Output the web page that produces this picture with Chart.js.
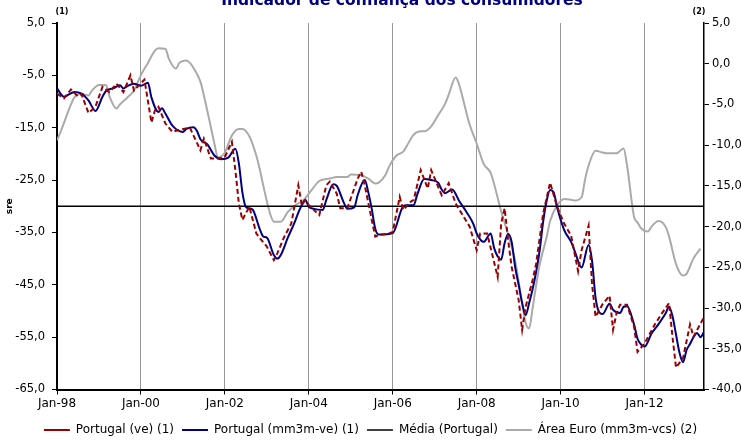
<!DOCTYPE html>
<html>
<head>
<meta charset="utf-8">
<title>Indicador de confiança dos consumidores</title>
<script src="https://cdn.jsdelivr.net/npm/chart.js@4.4.0/dist/chart.umd.min.js"></script>
<style>
  html, body { margin: 0; padding: 0; background: #ffffff; }
  #wrap { width: 741px; height: 446px; }
</style>
</head>
<body>
<div id="wrap"><canvas id="chart" width="741" height="446"></canvas></div>
<script>
// Months are counted from Jan-98 (0 = Jan-98, 185 = Jun-13)
const chartTitle = 'Indicador de confiança dos consumidores';
const xTickMonths = [0, 24, 48, 72, 96, 120, 144, 168];
const xTickLabels = ['Jan-98', 'Jan-00', 'Jan-02', 'Jan-04', 'Jan-06', 'Jan-08', 'Jan-10', 'Jan-12'];

// Portugal (ve) (1)
const ptMonths = [0, 2, 4, 6, 7, 9, 11, 13, 15, 17, 19, 21, 22, 25, 27, 28, 29, 31, 33, 35,
    38, 41, 42, 44, 46, 48, 50, 51, 52, 53, 55, 57, 58, 60, 62, 63, 65, 67, 69, 70,
    71, 72, 75, 77, 78, 80, 81, 83, 86, 87, 88, 90, 91, 92, 95, 96, 98, 99, 101, 102,
    104, 106, 107, 110, 112, 114, 116, 118, 120, 121, 123, 126, 127, 128, 129, 130, 132, 133, 134, 136,
    137, 139, 141, 143, 145, 147, 149, 150, 152, 153, 154, 156, 158, 159, 160, 161, 163, 165, 166, 168,
    171, 173, 175, 176, 177, 179, 181, 182, 185];
const ptValues = [-8.5, -9.4, -7.7, -9.0, -8.6, -12.2, -11.0, -7.2, -8.2, -6.6, -8.2, -5.0, -7.9, -5.8, -14.0, -11.7, -11.0, -14.2, -15.8, -15.4,
    -15.0, -19.3, -17.1, -20.9, -20.9, -20.6, -17.7, -23.1, -29.5, -32.6, -30.1, -35.2, -36.1, -37.7, -40.3, -39.0, -35.8, -33.3, -26.0, -29.8,
    -28.8, -29.8, -31.7, -26.0, -25.3, -27.6, -30.4, -30.4, -24.7, -23.4, -26.0, -32.6, -35.8, -35.5, -35.2, -34.9, -28.2, -30.7, -29.2, -28.8,
    -23.1, -26.6, -23.1, -27.9, -25.6, -29.5, -31.7, -33.9, -38.4, -35.2, -35.2, -43.5, -33.3, -30.4, -36.5, -41.6, -47.9, -53.6, -49.2, -44.1,
    -41.0, -31.4, -25.5, -30.1, -33.3, -35.6, -42.4, -38.4, -33.7, -45.0, -51.1, -48.7, -47.1, -53.6, -50.4, -48.8, -48.8, -53.0, -57.8, -56.2,
    -52.5, -50.4, -48.5, -55.0, -60.8, -59.0, -52.6, -54.9, -51.2];

// Portugal (mm3m-ve) (1)
const ptAvgMonths = [0, 2, 3, 5, 7, 9, 11, 13, 14, 16, 18, 19, 20, 22, 24, 26, 27, 29, 30, 31,
    33, 36, 37, 39, 40, 41, 43, 45, 47, 49, 51, 52, 53, 54, 55, 56, 58, 59, 60, 62,
    63, 64, 66, 68, 69, 70, 71, 72, 73, 76, 77, 79, 80, 82, 83, 85, 86, 88, 89, 90,
    91, 92, 96, 99, 100, 102, 103, 105, 107, 109, 110, 111, 113, 115, 117, 119, 120, 122, 124, 125,
    126, 127, 128, 129, 130, 131, 132, 133, 134, 135, 136, 137, 138, 139, 140, 141, 142, 143, 145, 147,
    148, 150, 152, 153, 154, 155, 156, 158, 159, 161, 162, 163, 165, 166, 167, 168, 170, 172, 174, 175,
    176, 177, 178, 179, 180, 181, 182, 183, 184, 185];
const ptAvgValues = [-7.5, -9.1, -8.8, -8.2, -8.5, -9.8, -11.8, -9.1, -8.0, -7.5, -6.9, -7.5, -7.1, -6.6, -7.0, -6.4, -9.2, -12.0, -11.3, -12.3,
    -14.6, -15.8, -15.2, -14.9, -15.6, -17.2, -18.2, -20.3, -21.0, -20.7, -19.0, -21.8, -27.3, -30.1, -30.4, -30.7, -34.4, -35.8, -36.0, -39.3,
    -40.0, -39.3, -36.0, -33.0, -31.2, -29.8, -28.8, -30.1, -30.4, -30.7, -28.8, -25.8, -26.1, -29.3, -30.5, -30.2, -27.8, -25.0, -27.3, -30.5,
    -34.3, -35.4, -35.1, -30.0, -29.8, -29.8, -27.8, -24.8, -25.0, -25.5, -26.8, -27.5, -26.8, -29.0, -31.0, -33.3, -35.2, -36.8, -35.2, -38.0,
    -39.6, -40.2, -37.0, -35.3, -36.8, -41.6, -45.0, -48.5, -50.8, -48.5, -45.8, -42.5, -38.5, -33.0, -29.0, -26.9, -27.3, -30.2, -34.5, -36.8,
    -38.5, -41.7, -37.4, -40.5, -47.5, -50.2, -50.6, -48.6, -49.8, -50.4, -49.2, -49.1, -52.6, -55.3, -56.4, -56.8, -54.3, -52.5, -50.5, -49.2,
    -51.0, -54.5, -58.0, -59.8, -57.5, -56.3, -55.0, -54.2, -55.0, -54.0];

// Média (Portugal)
const mediaMonths = [0, 185];
const mediaValues = [-30, -30];

// Área Euro (mm3m-vcs) (2) - right axis
const euroMonths = [0, 1, 4, 5, 7, 9, 10, 12, 14, 15, 17, 18, 20, 22, 24, 26, 28, 29, 31, 32,
    34, 35, 37, 38, 39, 41, 42, 44, 45, 46, 48, 50, 52, 53, 55, 57, 58, 59, 61, 62,
    64, 66, 68, 70, 71, 73, 75, 78, 80, 83, 84, 87, 89, 91, 92, 94, 95, 97, 99, 100,
    102, 104, 105, 107, 109, 111, 112, 114, 115, 117, 118, 120, 122, 124, 125, 127, 129, 131, 133, 134,
    135, 136, 137, 138, 140, 141, 143, 145, 147, 148, 150, 151, 152, 154, 156, 157, 158, 160, 162, 163,
    165, 166, 167, 169, 170, 172, 174, 175, 177, 179, 180, 182, 184];
const euroValues = [-9.4, -8.4, -5.0, -4.1, -3.7, -3.9, -3.3, -2.6, -2.6, -4.0, -5.5, -5.0, -4.2, -3.3, -1.4, 0.1, 1.6, 1.9, 1.8, 0.6,
    -0.6, 0.1, 0.4, 0.1, -0.5, -2.2, -3.9, -7.8, -9.8, -11.5, -10.9, -8.8, -8.0, -8.0, -8.9, -11.3, -13.0, -15.0, -18.5, -19.4,
    -19.4, -18.2, -17.4, -16.9, -16.5, -15.4, -14.4, -14.1, -13.9, -13.9, -13.6, -13.7, -14.1, -14.7, -14.6, -13.6, -12.6, -11.3, -10.8, -10.1,
    -8.7, -8.3, -8.3, -7.7, -6.3, -4.9, -3.8, -1.7, -2.6, -5.9, -7.5, -9.8, -12.3, -13.4, -14.8, -18.1, -21.0, -24.2, -29.4, -31.8,
    -32.5, -30.0, -27.2, -24.7, -21.3, -19.3, -17.4, -16.6, -16.7, -16.8, -16.4, -14.2, -12.5, -10.7, -10.9, -11.0, -11.0, -11.0, -10.4, -12.5,
    -18.8, -19.5, -20.2, -20.6, -20.0, -19.3, -20.0, -21.2, -24.6, -26.0, -25.8, -23.9, -22.7];

const FONT = '"DejaVu Sans", sans-serif';

function toPoints(months, values) {
    return months.map((m, i) => ({ x: m, y: values[i] }));
}

function fmtComma(v) {
    return v.toFixed(1).replace('.', ',');
}

// Title and the (1)/(2) axis markers
const extraText = {
    id: 'extraText',
    afterDraw(chart) {
        const ctx = chart.ctx;
        const area = chart.chartArea;
        ctx.save();
        ctx.textAlign = 'center';
        ctx.textBaseline = 'alphabetic';
        ctx.fillStyle = '#000080';
        ctx.font = 'bold 15.5px ' + FONT;
        ctx.fillText(chartTitle, 402, 5);
        ctx.fillStyle = '#000000';
        ctx.font = 'bold 8px ' + FONT;
        ctx.fillText('(1)', area.left + 5, 14);
        ctx.fillText('(2)', area.right - 5, 14);
        ctx.restore();
    }
};

const ctx = document.getElementById('chart').getContext('2d');
new Chart(ctx, {
    type: 'line',
    data: {
        datasets: [
            {
                label: 'Portugal (ve) (1)',
                data: toPoints(ptMonths, ptValues),
                borderColor: '#990000',
                borderWidth: 2,
                borderDash: [5, 3],
                pointRadius: 0,
                tension: 0,
                yAxisID: 'y'
            },
            {
                label: 'Portugal (mm3m-ve) (1)',
                data: toPoints(ptAvgMonths, ptAvgValues),
                borderColor: '#000080',
                borderWidth: 2,
                pointRadius: 0,
                cubicInterpolationMode: 'monotone',
                yAxisID: 'y'
            },
            {
                label: 'Média (Portugal)',
                data: toPoints(mediaMonths, mediaValues),
                borderColor: '#000000',
                borderWidth: 1.5,
                pointRadius: 0,
                yAxisID: 'y'
            },
            {
                label: 'Área Euro (mm3m-vcs) (2)',
                data: toPoints(euroMonths, euroValues),
                borderColor: '#AAAAAA',
                borderWidth: 2,
                pointRadius: 0,
                cubicInterpolationMode: 'monotone',
                yAxisID: 'y2'
            }
        ]
    },
    options: {
        responsive: false,
        animation: false,
        layout: { padding: { top: 23, left: 0, right: 0, bottom: 0 } },
        plugins: {
            title: { display: false },
            tooltip: { enabled: false },
            legend: {
                position: 'bottom',
                labels: {
                    usePointStyle: true,
                    pointStyle: 'line',
                    pointStyleWidth: 26,
                    color: '#000000',
                    padding: 8,
                    font: { family: FONT, size: 12 }
                }
            }
        },
        scales: {
            x: {
                type: 'linear',
                min: 0,
                max: 185,
                afterBuildTicks: scale => {
                    scale.ticks = xTickMonths.map(v => ({ value: v }));
                },
                afterFit: scale => { scale.height = 26.5; },
                ticks: {
                    autoSkip: false,
                    maxRotation: 0,
                    padding: 2,
                    color: '#000000',
                    font: { family: FONT, size: 12 },
                    callback: function(value) {
                        const i = xTickMonths.indexOf(value);
                        return i >= 0 ? xTickLabels[i] : '';
                    }
                },
                grid: {
                    color: '#999999',
                    lineWidth: 1,
                    tickLength: 5,
                    tickColor: '#000000'
                },
                border: { color: '#000000', width: 2 }
            },
            y: {
                position: 'left',
                min: -65,
                max: 5,
                afterFit: scale => { scale.width = 57; },
                ticks: {
                    stepSize: 10,
                    padding: 7,
                    color: '#000000',
                    font: { family: FONT, size: 11.5 },
                    callback: v => fmtComma(v)
                },
                title: {
                    display: true,
                    text: 'sre',
                    color: '#000000',
                    padding: { top: 4, bottom: 0 },
                    font: { family: FONT, size: 9, weight: 'bold' }
                },
                grid: {
                    drawOnChartArea: false,
                    tickLength: 5,
                    tickColor: '#000000'
                },
                border: { color: '#000000', width: 2 }
            },
            y2: {
                position: 'right',
                min: -40,
                max: 5,
                afterFit: scale => { scale.width = 37; },
                ticks: {
                    stepSize: 5,
                    padding: 3,
                    color: '#000000',
                    font: { family: FONT, size: 11.5 },
                    callback: v => fmtComma(v)
                },
                grid: {
                    drawOnChartArea: false,
                    tickLength: 5,
                    tickColor: '#000000'
                },
                border: { color: '#000000', width: 1.5 }
            }
        }
    },
    plugins: [extraText]
});
</script>
</body>
</html>
